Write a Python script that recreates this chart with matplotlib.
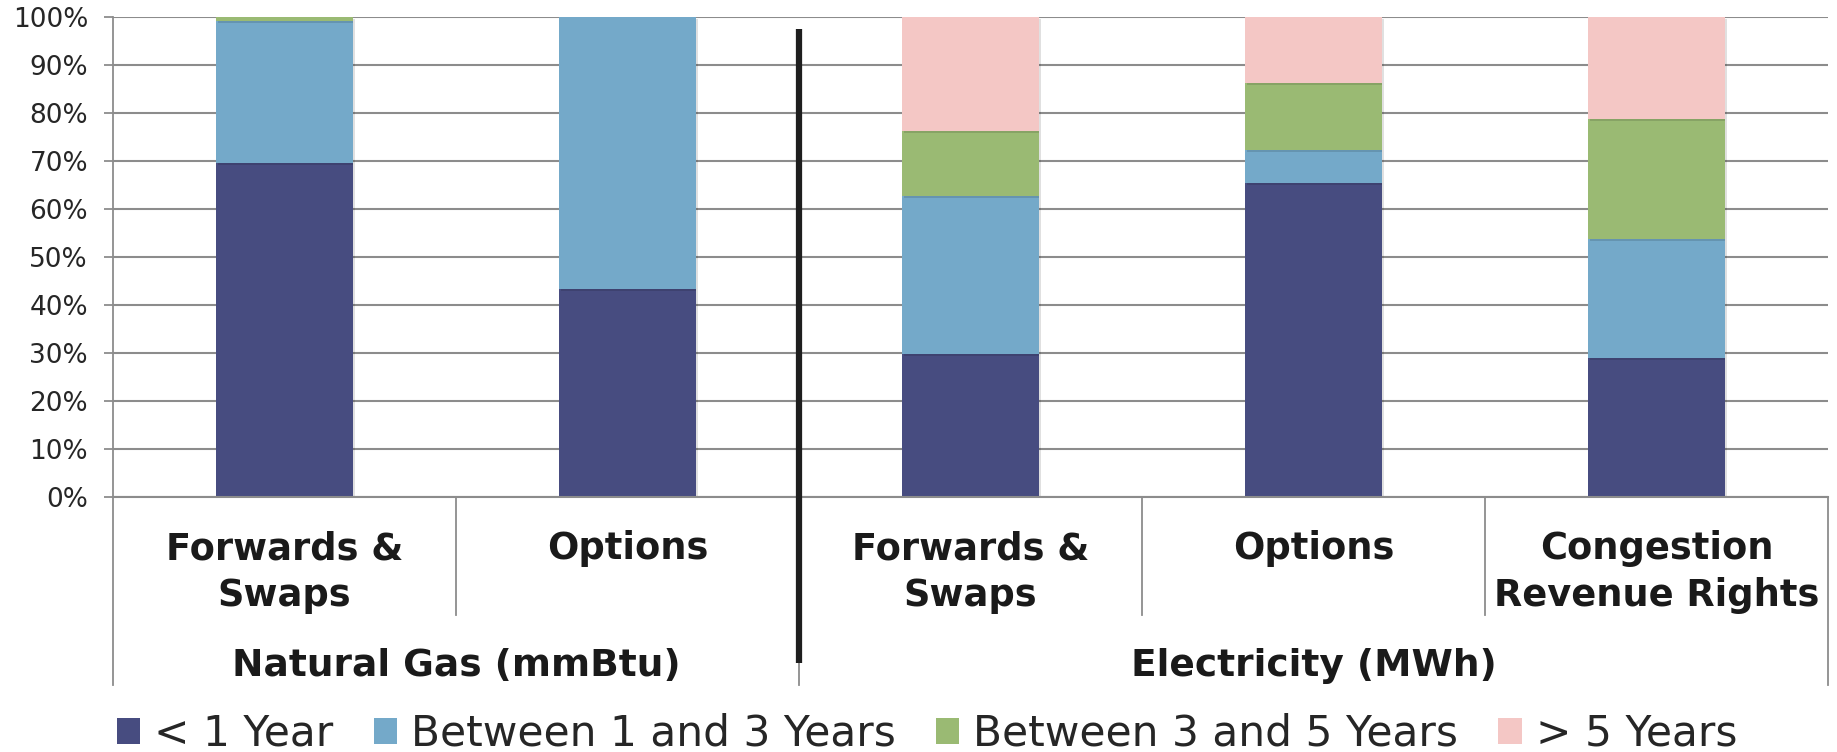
import matplotlib
matplotlib.use("Agg")
import matplotlib.pyplot as plt
import matplotlib.patheffects as pe
from matplotlib.patches import Patch
import numpy as np

# Tenor breakdown (% of volume) by product
categories = ["Forwards &\nSwaps", "Options", "Forwards &\nSwaps", "Options",
              "Congestion\nRevenue Rights"]
groups = ["Natural Gas (mmBtu)", "Electricity (MWh)"]
group_sizes = [2, 3]

series_names = ["< 1 Year", "Between 1 and 3 Years", "Between 3 and 5 Years", "> 5 Years"]
lt_1yr = [69.6, 43.3, 29.8, 65.4, 28.9]
yr_1_3 = [29.6, 56.7, 33.0, 6.9, 24.9]
yr_3_5 = [0.8, 0.0, 13.4, 13.9, 25.0]
gt_5yr = [0.0, 0.0, 23.8, 13.8, 21.2]

colors = ["#474c80", "#74a9c9", "#9aba73", "#f4c7c5"]
yticks = np.arange(0, 101, 10)
ytick_labels = [f"{t}%" for t in yticks]

W, H = 1837, 752
fig = plt.figure(figsize=(W / 100, H / 100), dpi=100)
ax = fig.add_axes([113 / W, 1 - 497 / H, (1828 - 113) / W, 480 / H])

x = np.arange(len(categories))
shadow = [pe.SimplePatchShadow(offset=(1.5, -1.5), shadow_rgbFace="#000000", alpha=0.12),
          pe.Normal()]
bottom = np.zeros(len(categories))
for vals, col, name in zip([lt_1yr, yr_1_3, yr_3_5, gt_5yr], colors, series_names):
    bars = ax.bar(x, vals, width=0.4, bottom=bottom, color=col, label=name,
                  zorder=3, linewidth=0)
    for b in bars:
        b.set_path_effects(shadow)
    bottom += np.array(vals)

ax.set_xlim(-0.5, len(categories) - 0.5)
ax.set_ylim(0, 100)
ax.set_yticks(yticks)
ax.set_yticklabels(ytick_labels, fontsize=19, color="#262626")
ax.tick_params(axis="y", length=6.5, width=1.3, color="#8c8c8c", pad=11.5)
ax.set_xticks([])
ax.yaxis.grid(True, color="#8c8c8c", linewidth=1.5, zorder=0)
ax.set_axisbelow(True)
for s in ["top", "right", "bottom"]:
    ax.spines[s].set_visible(False)
ax.spines["left"].set_color("#8c8c8c")
ax.spines["left"].set_linewidth(1.3)

# Two-level category axis with separators
tr = ax.get_xaxis_transform()
bounds = np.cumsum([0] + group_sizes) - 0.5
for i in range(len(categories) + 1):
    xs = i - 0.5
    y_end = -0.392 if xs in bounds else -0.246
    ax.plot([xs, xs], [0, y_end], transform=tr, color="#8c8c8c", lw=1.3,
            clip_on=False, zorder=1)
ax.plot([-0.5, len(categories) - 0.5], [0, 0], transform=tr, color="#8c8c8c",
        lw=1.5, clip_on=False, zorder=4)

for xi, lab in zip(x, categories):
    ax.text(xi, -0.069, lab, transform=tr, ha="center", va="top", fontsize=26.5,
            fontweight="bold", color="#1a1a1a", linespacing=1.34)
for gname, lo, hi in zip(groups, bounds[:-1], bounds[1:]):
    ax.text((lo + hi) / 2, -0.352, gname, transform=tr, ha="center", va="center",
            fontsize=27, fontweight="bold", color="#1a1a1a")

# Heavy divider between commodities
ax.plot([bounds[1], bounds[1]], [0.975, -0.345], transform=tr, color="#1e1e1e",
        lw=4.5, clip_on=False, zorder=5, solid_capstyle="butt")

handles = [Patch(facecolor=c, edgecolor="none") for c in colors]
fig.legend(handles, series_names, loc="center", bbox_to_anchor=(927 / W, 1 - 734 / H),
           ncol=4, frameon=False, fontsize=30.5, handlelength=0.55, handleheight=0.55,
           handletextpad=0.33, columnspacing=0.95, labelcolor="#262626")

fig.savefig("out.png", dpi=100)
